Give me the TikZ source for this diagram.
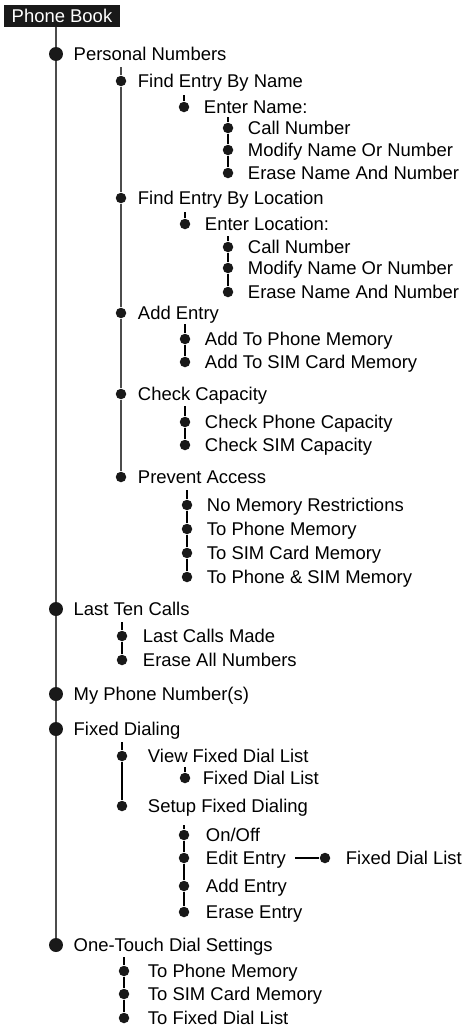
\documentclass[tikz,border=0pt]{standalone}
\usepackage{fontspec}
\setmainfont{Liberation Sans}
\usetikzlibrary{positioning}

\tikzset{
  bigdot/.style={circle, fill=black!90, inner sep=0pt, minimum size=0.28cm},
  dot/.style={circle, fill=black!90, inner sep=0pt, minimum size=0.21cm},
  item/.style={inner sep=0pt, text height=7.5pt, text depth=0pt},
  trunk/.style={draw=black!70, line width=1pt},
  twig/.style={draw=black, line width=1.1pt},
  stem/.style={draw=black, line width=1.6pt},
}

\begin{document}
\begin{tikzpicture}[x=0.02cm, y=-0.02cm, font=\fontsize{10.5}{12}\selectfont]
  \useasboundingbox (0,0) rectangle (463,1028);
  \node[fill=black!90, text=white, minimum width=2.32cm, minimum height=0.44cm,
        inner sep=0pt, text height=7.5pt, text depth=0pt] (pb) at (62,16) {Phone Book};

  % top level
  \foreach \n/\y/\t in {a1/54/Personal Numbers, a2/609/Last Ten Calls,
      a3/694/My Phone Number(s), a4/729/Fixed Dialing, a5/945/One-Touch Dial Settings} {
    \node[bigdot] (\n) at (56,\y) {};
    \node[item, right=0.2cm of \n] (\n t) {\t};
  }
  \coordinate (a0) at (pb.south -| a1);
  \draw[trunk] (a0) -- (a1) -- (a2) -- (a3) -- (a4) -- (a5);

  % personal numbers
  \foreach \n/\y/\t in {b1/81/Find Entry By Name, b2/198/Find Entry By Location,
      b3/313/Add Entry, b4/394/Check Capacity, b5/477/Prevent Access} {
    \node[dot] (\n) at (121,\y) {};
    \node[item, right=0.22cm of \n] (\n t) {\t};
  }
  \coordinate (b0) at (121,67);
  \draw[trunk, line width=0.7pt] (b0) -- (b1) -- (b2) -- (b3) -- (b4) -- (b5);

  \node[dot] (c1) at (184,107) {};
  \node[item, right=0.28cm of c1] (c1t) {Enter Name:};
  \coordinate (c0) at (184,95);
  \draw[twig] (c0) -- (c1);
  \foreach \n/\y/\t in {d1/128/Call Number, d2/150/Modify Name Or Number,
      d3/173/Erase Name And Number} {
    \node[dot] (\n) at (228,\y) {};
    \node[item, right=0.28cm of \n] (\n t) {\t};
  }
  \coordinate (d0) at (228,117);
  \draw[twig] (d0) -- (d1) -- (d2) -- (d3);

  \node[dot] (c2) at (185,224) {};
  \node[item, right=0.28cm of c2] (c2t) {Enter Location:};
  \coordinate (c3) at (185,212);
  \draw[twig] (c3) -- (c2);
  \foreach \n/\y/\t in {e1/247/Call Number, e2/268/Modify Name Or Number,
      e3/292/Erase Name And Number} {
    \node[dot] (\n) at (228,\y) {};
    \node[item, right=0.28cm of \n] (\n t) {\t};
  }
  \coordinate (e0) at (228,236);
  \draw[twig] (e0) -- (e1) -- (e2) -- (e3);

  \foreach \n/\y/\t in {f1/339/Add To Phone Memory, f2/362/Add To SIM Card Memory} {
    \node[dot] (\n) at (185,\y) {};
    \node[item, right=0.28cm of \n] (\n t) {\t};
  }
  \coordinate (f0) at (185,324);
  \draw[twig] (f0) -- (f1) -- (f2);

  \foreach \n/\y/\t in {g1/422/Check Phone Capacity, g2/445/Check SIM Capacity} {
    \node[dot] (\n) at (185,\y) {};
    \node[item, right=0.28cm of \n] (\n t) {\t};
  }
  \coordinate (g0) at (185,406);
  \draw[twig] (g0) -- (g1) -- (g2);

  \foreach \n/\y/\t in {h1/505/No Memory Restrictions, h2/529/To Phone Memory,
      h3/553/To SIM Card Memory, h4/577/To Phone \& SIM Memory} {
    \node[dot] (\n) at (187,\y) {};
    \node[item, right=0.28cm of \n] (\n t) {\t};
  }
  \coordinate (h0) at (187,490);
  \draw[twig] (h0) -- (h1) -- (h2) -- (h3) -- (h4);

  % last ten calls
  \foreach \n/\y/\t in {i1/636/Last Calls Made, i2/660/Erase All Numbers} {
    \node[dot] (\n) at (122,\y) {};
    \node[item, right=0.3cm of \n] (\n t) {\t};
  }
  \coordinate (i0) at (122,622);
  \draw[stem] (i0) -- (i1) -- (i2);

  % fixed dialing
  \foreach \n/\y/\t in {j1/756/View Fixed Dial List, j2/806/Setup Fixed Dialing} {
    \node[dot] (\n) at (122,\y) {};
    \node[item, right=0.4cm of \n] (\n t) {\t};
  }
  \coordinate (j0) at (122,742);
  \draw[stem] (j0) -- (j1) -- (j2);

  \node[dot] (k1) at (185,778) {};
  \node[item, right=0.24cm of k1] (k1t) {Fixed Dial List};
  \coordinate (k0) at (185,767);
  \draw[twig] (k0) -- (k1);

  \foreach \n/\y/\t in {m1/835/{On/Off}, m2/858/Edit Entry, m3/886/Add Entry,
      m4/912/Erase Entry} {
    \node[dot] (\n) at (184,\y) {};
    \node[item, right=0.32cm of \n] (\n t) {\t};
  }
  \coordinate (m0) at (184,825);
  \draw[stem] (m0) -- (m1) -- (m2) -- (m3) -- (m4);

  \node[dot] (n1) at (325,858) {};
  \node[item, right=0.3cm of n1] (n1t) {Fixed Dial List};
  \coordinate (n0) at (295,858);
  \draw[twig] (n0) -- (n1);

  % one-touch dial
  \foreach \n/\y/\t in {o1/971/To Phone Memory, o2/994/To SIM Card Memory,
      o3/1018/To Fixed Dial List} {
    \node[dot] (\n) at (124,\y) {};
    \node[item, right=0.36cm of \n] (\n t) {\t};
  }
  \coordinate (o0) at (124,957);
  \draw[stem] (o0) -- (o1) -- (o2) -- (o3);
\end{tikzpicture}
\end{document}
